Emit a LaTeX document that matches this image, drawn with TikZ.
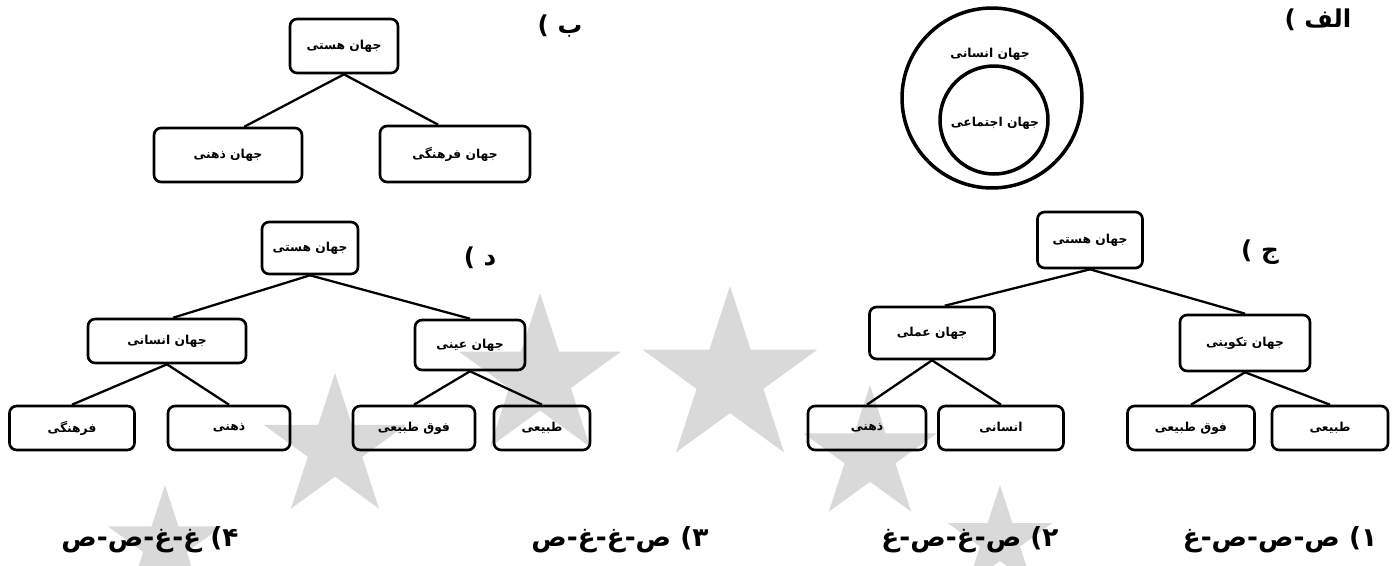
\documentclass[tikz,border=0pt]{standalone}
\usepackage{fontspec}
\newfontfamily\fa[Script=Arabic]{DejaVu Sans}
\TeXXeTstate=1
\usetikzlibrary{shapes.geometric}
\begin{document}
\begin{tikzpicture}[x=0.02cm, y=-0.02cm,
	box/.style={
		draw,
		line width=1.5pt,
		rounded corners=4pt,
		inner sep=2pt,
		font=\fa\bfseries\fontsize{7}{8}\selectfont
	},
	tag/.style={font=\fa\bfseries\fontsize{14}{16}\selectfont},
	choice/.style={font=\fa\bfseries\fontsize{15}{18}\selectfont},
	wstar/.style={star, star points=5, star point ratio=2.618, fill=black!15, inner sep=0pt},
	link/.style={line width=1.3pt}]
	\useasboundingbox (0,0) rectangle (1396,565);
	% watermark
	\foreach \sx/\sy/\sr [count=\i] in {730/378/92, 540/378/85, 335/448/75, 165/545/60, 870/455/70, 1000/540/55}
		\node[wstar, minimum size=\sr*0.04cm] (star\i) at (\sx,\sy) {};
	
	% alef
	\node[draw, circle, line width=2pt, minimum size=3.6cm] (outerC) at (992,98) {};
	\node[draw, circle, line width=2pt, minimum size=2.16cm] (innerC) at (994,120) {};
	\node[font=\fa\bfseries\fontsize{7}{8}\selectfont] (outerT) at (990,54) {\beginR جهان انسانی\endR};
	\node[font=\fa\bfseries\fontsize{7}{8}\selectfont] (innerT) at (995,123) {\beginR جهان اجتماعی\endR};
	\node[tag] (alef) at (1318,20) {\beginR الف )\endR};
	
	% be
	\node[tag] (be) at (560,26) {\beginR ب )\endR};
	\node[box, minimum width=2.16cm, minimum height=1.08cm] (bTop) at (344,46) {\beginR جهان هستی\endR};
	\node[box, minimum width=2.96cm, minimum height=1.08cm] (bL) at (228,155) {\beginR جهان ذهنی\endR};
	\node[box, minimum width=3.0cm, minimum height=1.12cm] (bR) at (455,154) {\beginR جهان فرهنگی\endR};
	\draw[link] (bTop.south) -- (bL.60);
	\draw[link] (bTop.south) -- (bR.120);
	
	% jim
	\node[tag] (jim) at (1260,252) {\beginR ج )\endR};
	\node[box, minimum width=2.1cm, minimum height=1.12cm] (cTop) at (1090,240) {\beginR جهان هستی\endR};
	\node[box, minimum width=2.5cm, minimum height=1.04cm] (cL) at (932,333) {\beginR جهان عملی\endR};
	\node[box, minimum width=2.6cm, minimum height=1.12cm] (cR) at (1245,343) {\beginR جهان تکوینی\endR};
	\node[box, minimum width=2.36cm, minimum height=0.88cm] (cLL) at (867,428) {\beginR ذهنی\endR};
	\node[box, minimum width=2.5cm, minimum height=0.88cm] (cLR) at (1001,428) {\beginR انسانی\endR};
	\node[box, minimum width=2.54cm, minimum height=0.88cm] (cRL) at (1191,428) {\beginR فوق طبیعی\endR};
	\node[box, minimum width=2.32cm, minimum height=0.88cm] (cRR) at (1330,428) {\beginR طبیعی\endR};
	\draw[link] (cTop.south) -- (cL.65);
	\draw[link] (cTop.south) -- (cR.north);
	\draw[link] (cL.south) -- (cLL.north);
	\draw[link] (cL.south) -- (cLR.north);
	\draw[link] (cR.south) -- (cRL.north);
	\draw[link] (cR.south) -- (cRR.north);
	
	% dal
	\node[tag] (dal) at (480,258) {\beginR د )\endR};
	\node[box, minimum width=1.92cm, minimum height=1.04cm] (dTop) at (310,248) {\beginR جهان هستی\endR};
	\node[box, minimum width=3.16cm, minimum height=0.88cm] (dL) at (167,341) {\beginR جهان انسانی\endR};
	\node[box, minimum width=2.2cm, minimum height=1.0cm] (dR) at (470,345) {\beginR جهان عینی\endR};
	\node[box, minimum width=2.5cm, minimum height=0.88cm] (dLL) at (72,428) {\beginR فرهنگی\endR};
	\node[box, minimum width=2.44cm, minimum height=0.88cm] (dLR) at (229,428) {\beginR ذهنی\endR};
	\node[box, minimum width=2.44cm, minimum height=0.88cm] (dRL) at (414,428) {\beginR فوق طبیعی\endR};
	\node[box, minimum width=1.92cm, minimum height=0.88cm] (dRR) at (542,428) {\beginR طبیعی\endR};
	\draw[link] (dTop.south) -- (dL.75);
	\draw[link] (dTop.south) -- (dR.north);
	\draw[link] (dL.south) -- (dLL.north);
	\draw[link] (dL.south) -- (dLR.north);
	\draw[link] (dR.south) -- (dRL.north);
	\draw[link] (dR.south) -- (dRR.north);
	
	% answers
	\node[choice] (opt1) at (1280,540) {\beginR ۱) ص-ص-ص-غ\endR};
	\node[choice] (opt2) at (970,540) {\beginR ۲) ص-غ-ص-غ\endR};
	\node[choice] (opt3) at (620,540) {\beginR ۳) ص-غ-غ-ص\endR};
	\node[choice] (opt4) at (150,540) {\beginR ۴) غ-غ-ص-ص\endR};
\end{tikzpicture}
\end{document}
